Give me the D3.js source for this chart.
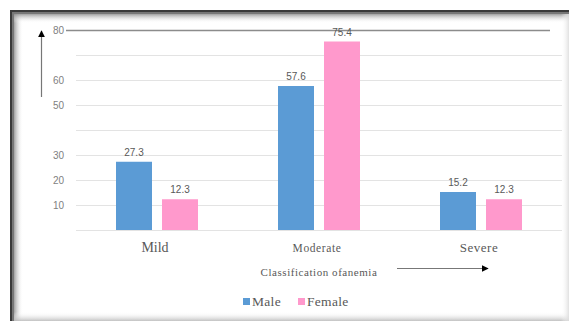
<!DOCTYPE html>
<html><head><meta charset="utf-8">
<script src="https://cdn.jsdelivr.net/npm/d3@7"></script>
<style>html,body{margin:0;padding:0;background:#fff;}svg{display:block;}</style>
</head><body>
<svg id="c" width="569" height="321"></svg>
<script>
const categories = ["Mild", "Moderate", "Severe"];
const seriesNames = ["Male", "Female"];
const maleValues = [27.3, 57.6, 15.2];
const femaleValues = [12.3, 75.4, 12.3];
const gridValues = [0, 10, 20, 30, 40, 50, 60, 70, 80];
const tickValues = [80, 60, 50, 30, 20, 10];
const tickLabels = ["80", "60", "50", "30", "20", "10"];
const axisTitle = "Classification ofanemia";
const colors = {Male: "#5b9bd5", Female: "#ff99cc"};

const svg = d3.select("#c");
const defs = svg.append("defs");
const gl = defs.append("linearGradient").attr("id","gl").attr("x1","0").attr("x2","1").attr("y1","0").attr("y2","0");
gl.append("stop").attr("offset","0").attr("stop-color","#888").attr("stop-opacity",0.8);
gl.append("stop").attr("offset","1").attr("stop-color","#fff").attr("stop-opacity",0);
const gt = defs.append("linearGradient").attr("id","gt").attr("x1","0").attr("x2","0").attr("y1","0").attr("y2","1");
gt.append("stop").attr("offset","0").attr("stop-color","#888").attr("stop-opacity",0.8);
gt.append("stop").attr("offset","1").attr("stop-color","#fff").attr("stop-opacity",0);
const gb = defs.append("linearGradient").attr("id","gb").attr("x1","0").attr("x2","0").attr("y1","0").attr("y2","1");
gb.append("stop").attr("offset","0").attr("stop-color","#fff").attr("stop-opacity",0);
gb.append("stop").attr("offset","1").attr("stop-color","#bbb").attr("stop-opacity",0.9);
const gr = defs.append("linearGradient").attr("id","gr").attr("x1","0").attr("x2","1").attr("y1","0").attr("y2","0");
gr.append("stop").attr("offset","0").attr("stop-color","#fff").attr("stop-opacity",0);
gr.append("stop").attr("offset","1").attr("stop-color","#ddd").attr("stop-opacity",0.9);
const mk = defs.append("marker").attr("id","ah").attr("viewBox","0 0 10 10").attr("refX",9).attr("refY",5)
  .attr("markerWidth",7).attr("markerHeight",7).attr("markerUnits","userSpaceOnUse").attr("orient","auto");
mk.append("path").attr("d","M0,0L10,5L0,10Z").attr("fill","#000");

// frame
svg.append("rect").attr("x",14).attr("y",14).attr("width",9).attr("height",307).attr("fill","url(#gl)");
svg.append("rect").attr("x",14).attr("y",14).attr("width",555).attr("height",9).attr("fill","url(#gt)");
svg.append("rect").attr("x",14).attr("y",312).attr("width",555).attr("height",9).attr("fill","url(#gb)");
svg.append("rect").attr("x",561).attr("y",14).attr("width",8).attr("height",307).attr("fill","url(#gr)");
svg.append("rect").attr("x",10).attr("y",10).attr("width",559).attr("height",2).attr("fill","#3a3a3a");
svg.append("rect").attr("x",10).attr("y",12).attr("width",559).attr("height",2).attr("fill","#777");
svg.append("rect").attr("x",10).attr("y",10).attr("width",2).attr("height",311).attr("fill","#3a3a3a");
svg.append("rect").attr("x",12).attr("y",12).attr("width",2).attr("height",309).attr("fill","#777");

const y = d3.scaleLinear().domain([0, 80]).range([230, 30]);
const x = d3.scaleBand().domain(categories).range([76, 562]).padding(0);
const xs = d3.scaleBand().domain(seriesNames).range([40, 122]).paddingInner(0.2174);

// gridlines
svg.append("g").selectAll("line").data(gridValues.filter(v => v !== 80)).join("line")
  .attr("x1", 76).attr("x2", 562).attr("y1", d => y(d) + 0.5).attr("y2", d => y(d) + 0.5)
  .attr("stroke", "#e3e3e3").attr("stroke-width", 1.2);
svg.append("line").attr("x1", 66).attr("x2", 550).attr("y1", y(80) + 0.5).attr("y2", y(80) + 0.5)
  .attr("stroke", "#8c8c8c").attr("stroke-width", 1.6);

// tick labels
svg.append("g").selectAll("text").data(tickValues).join("text")
  .attr("x", 64).attr("y", d => y(d) + 3.5).attr("text-anchor", "end")
  .attr("font-family", "Liberation Sans, Arial, sans-serif").attr("font-size", 10).attr("fill", "#7f7f7f")
  .text((d, i) => tickLabels[i]);

// bars
const rows = categories.map((c, i) => ({cat: c, vals: [{s: "Male", v: maleValues[i]}, {s: "Female", v: femaleValues[i]}]}));
const g = svg.append("g").selectAll("g").data(rows).join("g").attr("transform", d => `translate(${x(d.cat)},0)`);
g.selectAll("rect").data(d => d.vals).join("rect")
  .attr("x", d => xs(d.s)).attr("width", xs.bandwidth())
  .attr("y", d => y(d.v)).attr("height", d => y(0) - y(d.v))
  .attr("fill", d => colors[d.s]);
g.selectAll("text").data(d => d.vals).join("text")
  .attr("x", d => xs(d.s) + xs.bandwidth() / 2).attr("y", d => y(d.v) - 6)
  .attr("text-anchor", "middle").attr("font-family", "Liberation Sans, Arial, sans-serif")
  .attr("font-size", 10).attr("fill", "#595959").text(d => d.v.toFixed(1));

// category labels
const catStyle = {Mild: [14, 0], Moderate: [11.5, 0.6], Severe: [13, 0.5]};
svg.append("g").selectAll("text").data(categories).join("text")
  .attr("x", d => x(d) + x.bandwidth() / 2 - 2).attr("y", 252)
  .attr("text-anchor", "middle").attr("font-family", "Liberation Serif, Times New Roman, serif")
  .attr("font-size", d => catStyle[d][0]).attr("letter-spacing", d => catStyle[d][1])
  .attr("fill", "#595959").text(d => d);

// axis title
svg.append("text").attr("x", 319).attr("y", 276).attr("text-anchor", "middle")
  .attr("font-family", "Liberation Serif, Times New Roman, serif").attr("font-size", 11)
  .attr("letter-spacing", 0.55).attr("fill", "#595959").text(axisTitle);

// arrows
svg.append("line").attr("x1", 397).attr("x2", 488).attr("y1", 268.5).attr("y2", 268.5)
  .attr("stroke", "#777").attr("stroke-width", 1)
  .attr("marker-end", "url(#ah)");
svg.append("line").attr("x1", 41.5).attr("x2", 41.5).attr("y1", 97).attr("y2", 31)
  .attr("stroke", "#777").attr("stroke-width", 1.2).attr("marker-end", "url(#ah)");

// legend
const legend = svg.append("g");
const lx = [243, 298];
seriesNames.forEach((s, i) => {
  legend.append("rect").attr("x", lx[i]).attr("y", 298).attr("width", 7).attr("height", 7).attr("fill", colors[s]);
  legend.append("text").attr("x", lx[i] + 9).attr("y", 306)
    .attr("font-family", "Liberation Serif, Times New Roman, serif").attr("font-size", 13.5)
    .attr("letter-spacing", 0.3).attr("fill", "#595959").text(s);
});
</script>
</body></html>
